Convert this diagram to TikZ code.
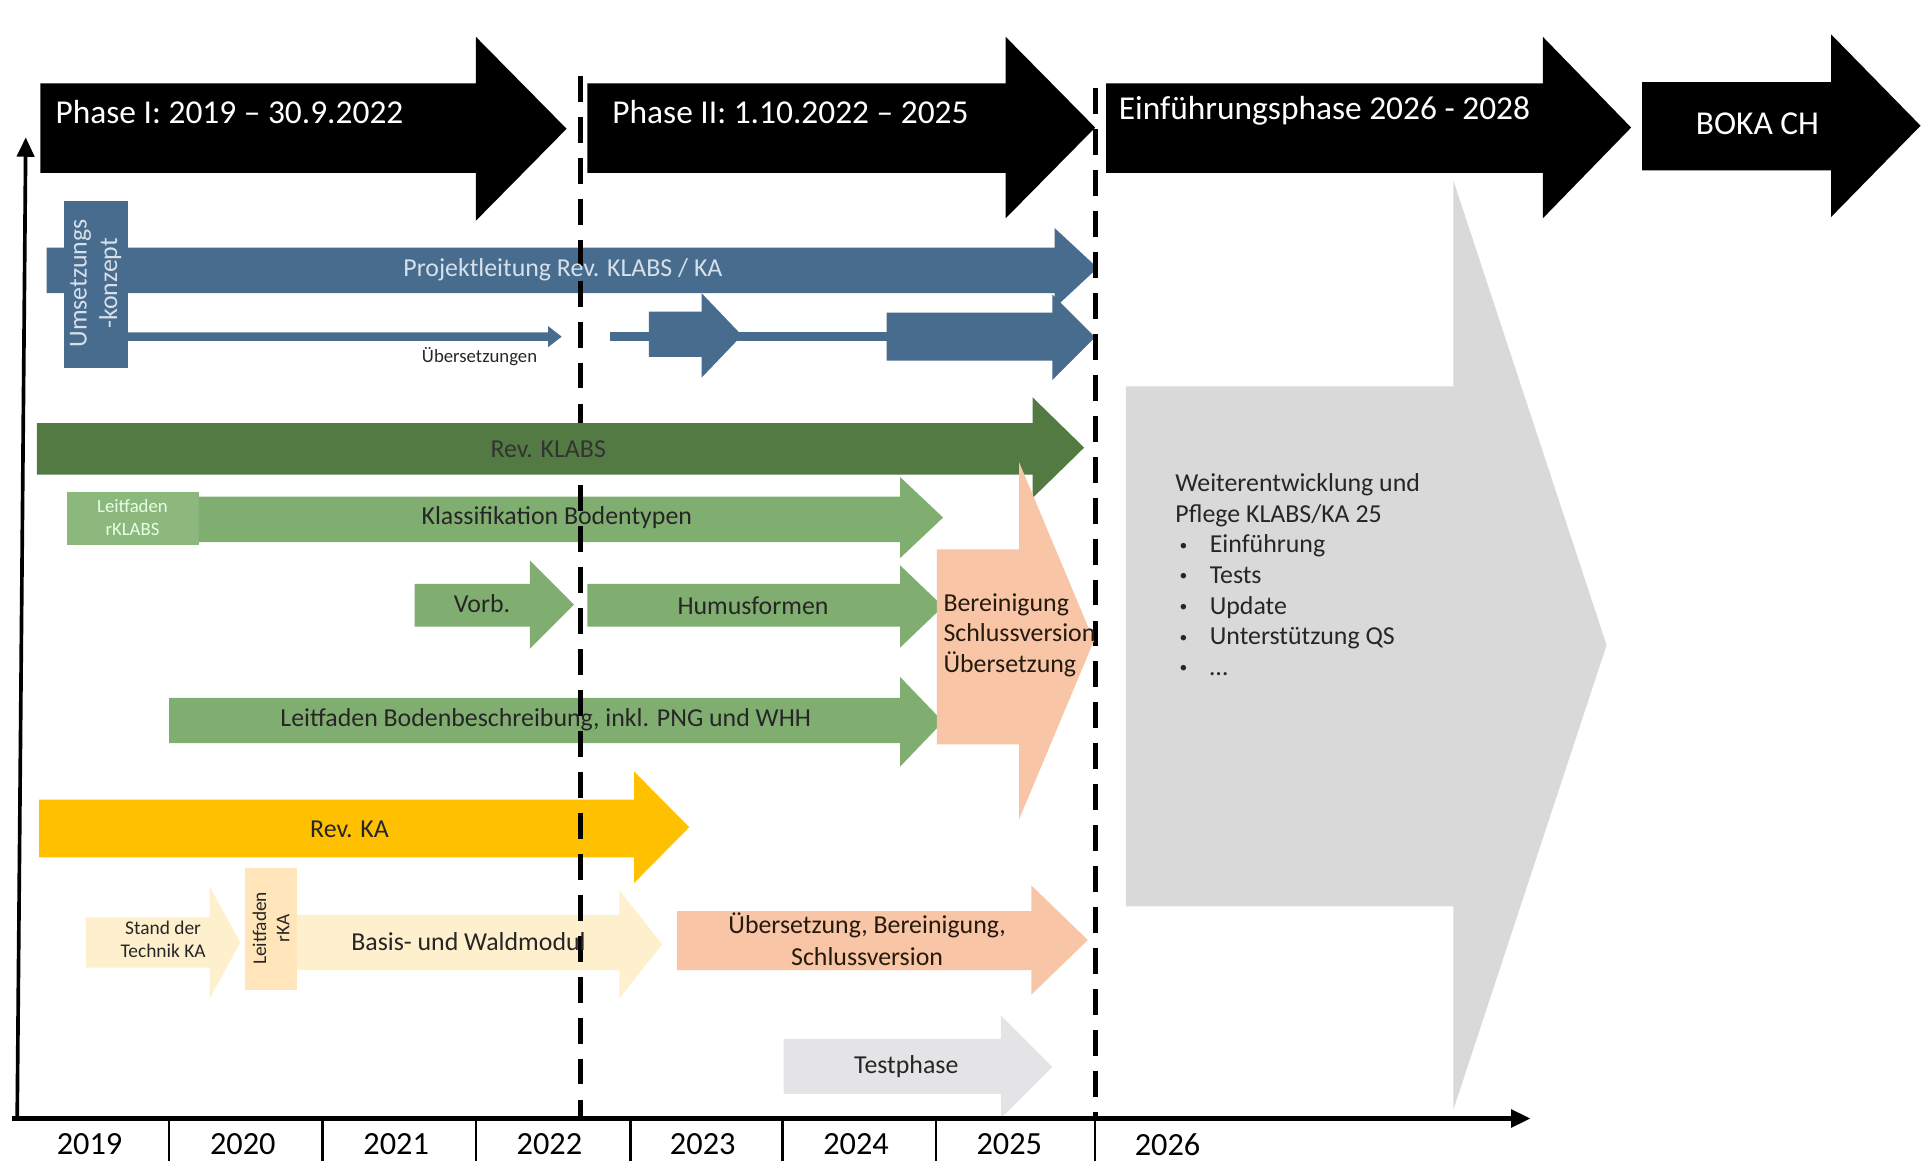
\documentclass[tikz,border=0pt]{standalone}
\usepackage{fontspec}
\setmainfont{Carlito}
\usetikzlibrary{arrows.meta}

\definecolor{blaugrau}{RGB}{72,108,142}
\definecolor{blauhell}{RGB}{214,224,234}
\definecolor{dunkelgruen}{RGB}{82,122,66}
\definecolor{mittelgruen}{RGB}{128,174,112}
\definecolor{boxgruen}{RGB}{140,184,126}
\definecolor{pfirsich}{RGB}{248,198,166}
\definecolor{gold}{RGB}{255,192,0}
\definecolor{hellgelb}{RGB}{255,240,205}
\definecolor{testgrau}{RGB}{228,228,230}
\definecolor{flaechengrau}{RGB}{217,217,217}
\definecolor{schrift}{RGB}{38,38,38}

% Blockpfeil: Farbe, x links, x Kopf, x Spitze, y oben, y unten, Kopf oben, Kopf unten
\newcommand{\blockpfeil}[8]{%
  \fill[#1] (#2,#5) -- (#3,#5) -- (#3,#7) -- (#4,{(#7+#8)/2}) -- (#3,#8) -- (#3,#6) -- (#2,#6) -- cycle;}
% Aufzaehlungspunkt
\newcommand{\punkt}{\makebox[16pt][l]{\hspace{2pt}\raisebox{1.2pt}{\scalebox{0.6}{•}}}}

\tikzset{
  txt/.style={font=\fontsize{12}{14.2}\selectfont, text=schrift, inner sep=0pt},
  klein/.style={font=\fontsize{8.7}{10.8}\selectfont, text=schrift, inner sep=0pt},
  phase/.style={font=\fontsize{15.5}{18}\selectfont, text=white, inner sep=0pt},
  jahr/.style={font=\fontsize{15}{18}\selectfont, text=black, inner sep=0pt},
  trennlinie/.style={line width=2.3pt, dash pattern=on 12pt off 7pt},
  achse/.style={line width=2.2pt, -{Triangle[length=9pt,width=8pt]}}
}

\begin{document}
\begin{tikzpicture}[x=0.02cm, y=-0.02cm]
  \useasboundingbox (0,0) rectangle (1568,947);

  % Grosse graue Flaeche (Einfuehrungsphase)
  \blockpfeil{flaechengrau}{918}{1185}{1310}{315}{739}{147}{905}

  % Phasen
  \blockpfeil{black}{33}{388}{462}{68}{141}{30}{180}
  \blockpfeil{black}{479}{820}{893}{68}{141}{30}{178}
  \blockpfeil{black}{902}{1258}{1330}{68}{141}{30}{178}
  \blockpfeil{black}{1339}{1493}{1566}{67}{139}{28}{177}

  % Projektleitung und Uebersetzungen
  \blockpfeil{blaugrau}{38}{860}{895}{202}{239}{186}{251}
  \blockpfeil{blaugrau}{104}{447}{458}{271}{278}{266}{283}
  \fill[blaugrau] (497,271) rectangle (860,278);
  \blockpfeil{blaugrau}{529}{572}{605}{254}{291}{239}{308}
  \blockpfeil{blaugrau}{723}{858}{893}{255}{294}{240}{310}
  \fill[blaugrau] (52,164) rectangle (104,300);

  % Teilprojekte KLABS
  \fill[boxgruen] (55,401) rectangle (162,444);
  \blockpfeil{mittelgruen}{162}{734}{769}{405}{442}{389}{455}
  \blockpfeil{mittelgruen}{338}{432}{468}{476}{511}{457}{529}
  \blockpfeil{mittelgruen}{479}{734}{769}{476}{511}{461}{528}
  \blockpfeil{mittelgruen}{138}{734}{769}{569}{606}{552}{625}

  % Rev. KA
  \blockpfeil{gold}{32}{517}{562}{652}{699}{629}{720}
  \blockpfeil{hellgelb}{70}{171}{196}{748}{789}{723}{814}
  \fill[hellgelb!90!orange] (200,708) rectangle (242,807);
  \blockpfeil{hellgelb}{242}{505}{540}{746}{791}{726}{814}
  \blockpfeil{pfirsich}{552}{841}{887}{743}{791}{722}{811}

  % Testphase
  \blockpfeil{testgrau}{639}{816}{858}{847}{892}{828}{912}

  % Phasengrenzen
  \draw[trennlinie] (473,62) -- (473,912);
  \draw[trennlinie] (893,72) -- (893,912);

  % Rev. KLABS und Bereinigung liegen ueber den Grenzen
  \blockpfeil{dunkelgruen}{30}{842}{884}{345}{387}{324}{406}
  \blockpfeil{pfirsich}{764}{831}{892}{448}{607}{377}{668}

  % Beschriftungen
  \node[phase, anchor=west] (phase1) at (45,91) {Phase I: 2019 – 30.9.2022};
  \node[phase, anchor=west] (phase2) at (499,91) {Phase II: 1.10.2022 – 2025};
  \node[phase, anchor=west] (einf) at (912,90) {Einführungsphase 2026 - 2028};
  \node[phase] (boka) at (1433,101) {BOKA CH};
  \node[txt, text=blauhell, rotate=90, align=center] (umsetz) at (78,231) {Umsetzungs\\-konzept};
  \node[txt, text=blauhell] (projl) at (459,220) {Projektleitung Rev. KLABS / KA};
  \node[klein] (uebers) at (391,291) {Übersetzungen};
  \node[txt, text=black!80] (revklabs) at (447,366) {Rev. KLABS};
  \node[txt, text=black!80!brown, anchor=west, align=left] (berein) at (769,518) {Bereinigung\\Schlussversion\\Übersetzung};
  \node[klein, text=white!90!green, align=center] (lfklabs) at (108,422) {Leitfaden\\rKLABS};
  \node[txt] (klass) at (454,422) {Klassifikation Bodentypen};
  \node[txt] (vorb) at (393,492) {Vorb.};
  \node[txt] (humus) at (614,494) {Humusformen};
  \node[txt] (lfboden) at (445,587) {Leitfaden Bodenbeschreibung, inkl. PNG und WHH};
  \node[txt] (revka) at (285,676) {Rev. KA};
  \node[klein, font=\fontsize{9}{10.8}\selectfont, align=center] (stand) at (133,766) {Stand der\\Technik KA};
  \node[klein, font=\fontsize{9}{10.8}\selectfont, rotate=90, align=center] (lfka) at (221,757) {Leitfaden\\rKA};
  \node[txt] (basis) at (382,768) {Basis- und Waldmodul};
  \node[txt, text=black!80!brown, align=center, font=\fontsize{12}{14.8}\selectfont] (schluss) at (707,766) {Übersetzung, Bereinigung,\\Schlussversion};
  \node[txt] (test) at (739,870) {Testphase};

  % Weiterentwicklung
  \node[txt, anchor=north west, align=left] (weiter) at (958,386) {Weiterentwicklung und\\Pflege KLABS/KA 25\\\punkt Einführung\\\punkt Tests\\\punkt Update\\\punkt Unterstützung QS\\\punkt …};

  % Achsen
  \draw[achse] (10,912) -- (1248,912);
  \draw[achse, line width=1.7pt] (14,914) -- (21,112);
  \foreach \x in {138,263,388,514,638,763,893}
    \draw[line width=1.1pt] (\x,912) -- (\x,947);
  \foreach \j [count=\i from 0] in {2019,2020,2021,2022,2023,2024,2025}
    \node[jahr] (j\j) at ({73+125*\i},933) {\j};
  \node[jahr] (j2026) at (952,933) {2026};
\end{tikzpicture}
\end{document}
